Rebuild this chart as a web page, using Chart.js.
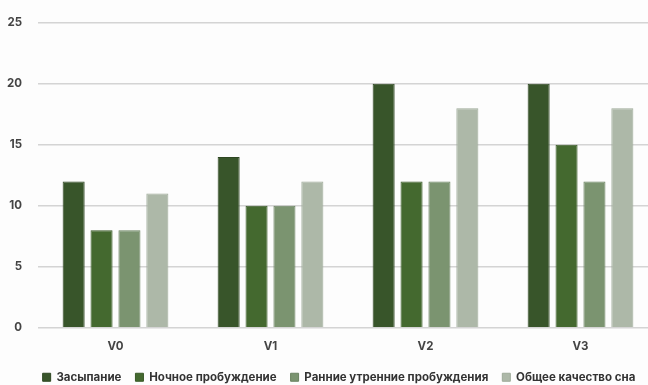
<!DOCTYPE html>
<html>
<head>
<meta charset="utf-8">
<script src="https://cdn.jsdelivr.net/npm/chart.js@4/dist/chart.umd.min.js"></script>
<style>
  html, body { margin: 0; padding: 0; background: #fdfdfd; overflow: hidden; }
  #wrap { width: 678px; height: 385px; }
</style>
</head>
<body>
<div id="wrap"><canvas id="c" width="678" height="385"></canvas></div>
<script>
const categories = ['V0', 'V1', 'V2', 'V3'];
const seriesNames = ['Засыпание', 'Ночное пробуждение', 'Ранние утренние пробуждения', 'Общее качество сна'];
const fallingAsleep = [12, 14, 20, 20];
const nightWaking = [8, 10, 12, 15];
const earlyWaking = [8, 10, 12, 12];
const overallQuality = [11, 12, 18, 18];
const yTicks = [0, 5, 10, 15, 20, 25];

const fills = ['#38552a', '#44692f', '#7b9470', '#adb8a8'];
const edges = ['#2e4722', '#395a27', '#6b8361', '#9eaa99'];
const values = [fallingAsleep, nightWaking, earlyWaking, overallQuality];

const font = { family: 'Inter, "Liberation Sans", sans-serif', size: 11.5, weight: '700' };

new Chart(document.getElementById('c'), {
  type: 'bar',
  data: {
    labels: categories,
    datasets: values.map((v, i) => ({
      label: seriesNames[i],
      data: v,
      backgroundColor: fills[i],
      borderColor: edges[i],
      borderWidth: 1,
      barPercentage: 0.79,
      categoryPercentage: 0.72
    }))
  },
  options: {
    responsive: false,
    animation: false,
    layout: { padding: { left: 0, top: 18, right: 0, bottom: -8 } },
    plugins: {
      tooltip: { enabled: false },
      legend: {
        position: 'bottom',
        labels: {
          boxWidth: 8,
          boxHeight: 8,
          padding: 14,
          color: '#333',
          font: font
        }
      }
    },
    scales: {
      x: {
        grid: { display: false },
        border: { display: false },
        ticks: { color: '#444', font: font, padding: 4 }
      },
      y: {
        min: 0,
        max: 25,
        afterBuildTicks: (axis) => { axis.ticks = yTicks.map(v => ({ value: v })); },
        afterFit: (axis) => { axis.width = 38; },
        grid: { color: '#d4d4d4', lineWidth: 1.5, drawTicks: false },
        border: { display: false },
        ticks: { color: '#444', font: font, padding: 16 }
      },
      // empty right-hand gutter
      yRight: {
        position: 'right',
        display: true,
        min: 0,
        max: 25,
        afterFit: (axis) => { axis.width = 20; },
        grid: { display: false },
        border: { display: false },
        ticks: { display: false }
      }
    }
  }
});
</script>
</body>
</html>
